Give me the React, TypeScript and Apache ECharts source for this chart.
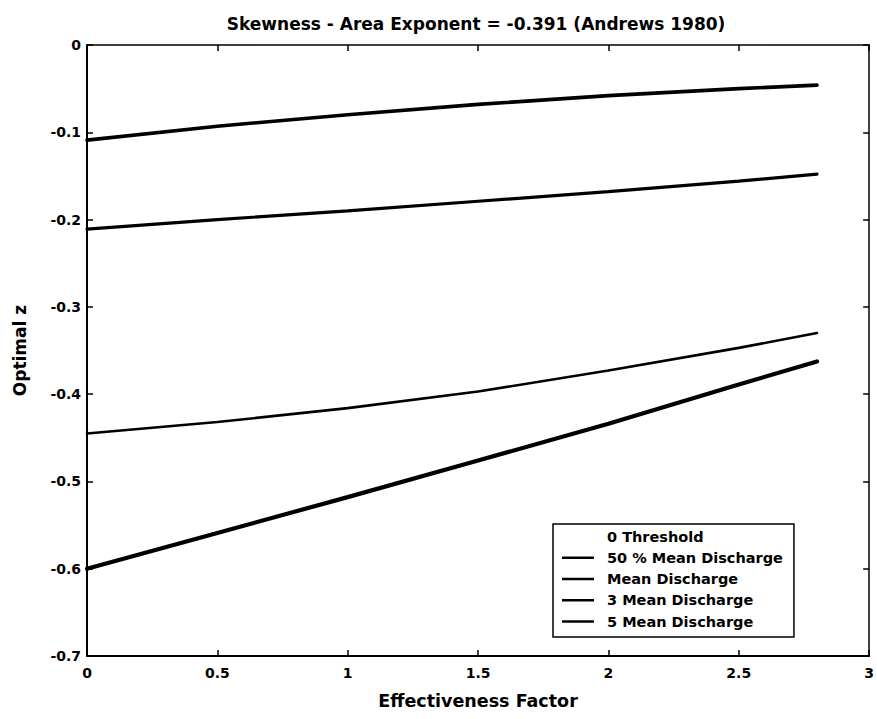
import React, { useEffect, useRef } from "react";
import * as echarts from "echarts";

// Effectiveness factor sample points shared by every curve
const effectiveness = [0, 0.5, 1, 1.5, 2, 2.5, 2.8];

const seriesNames = [
  "0 Threshold",
  "50 % Mean Discharge",
  "Mean Discharge",
  "3 Mean Discharge",
  "5 Mean Discharge",
];

// Optimal z per threshold (the 0 threshold curve is drawn in white)
const zZeroThreshold: number[] = [];
const zHalfMean = [-0.109, -0.093, -0.08, -0.068, -0.058, -0.05, -0.046];
const zMean = [-0.211, -0.2, -0.19, -0.179, -0.168, -0.156, -0.148];
const zThreeMean = [-0.445, -0.432, -0.416, -0.397, -0.373, -0.347, -0.33];
const zFiveMean = [-0.6, -0.559, -0.518, -0.476, -0.434, -0.389, -0.3625];

const yTicks = [0, -0.1, -0.2, -0.3, -0.4, -0.5, -0.6, -0.7];

const FONT = "'DejaVu Sans', Verdana, sans-serif";

export default function App() {
  const ref = useRef<HTMLDivElement>(null);

  useEffect(() => {
    if (!ref.current) return;
    const chart = echarts.init(ref.current, null, { renderer: "svg" });

    const curves = [zZeroThreshold, zHalfMean, zMean, zThreeMean, zFiveMean];
    const widths = [2, 3.6, 3.2, 2.6, 4.2];
    const colors = ["#ffffff", "#000", "#000", "#000", "#000"];

    const labelStyle = {
      color: "#000",
      fontFamily: FONT,
      fontWeight: "bold" as const,
      fontSize: 14,
    };

    chart.setOption({
      animation: false,
      backgroundColor: "#fff",
      title: {
        text: "Skewness - Area Exponent = -0.391 (Andrews 1980)",
        left: 471,
        textAlign: "center",
        top: 10,
        textStyle: { ...labelStyle, fontSize: 17 },
      },
      grid: { left: 87, right: 5, top: 45, bottom: 63 },
      legend: {
        orient: "vertical",
        left: 553,
        top: 524,
        data: seriesNames,
        icon: "rect",
        itemWidth: 32,
        itemHeight: 2.5,
        itemGap: 4.25,
        padding: [4, 11, 7, 9],
        borderColor: "#000",
        borderWidth: 1.5,
        borderRadius: 0,
        backgroundColor: "#fff",
        textStyle: { ...labelStyle, fontSize: 14.5, lineHeight: 17, padding: [0, 0, 0, 8] },
      },
      xAxis: [
        {
          type: "value",
          min: 0,
          max: 3,
          interval: 0.5,
          name: "Effectiveness Factor",
          nameLocation: "middle",
          nameGap: 36,
          nameTextStyle: { ...labelStyle, fontSize: 17.5 },
          axisLine: { onZero: false, lineStyle: { color: "#000", width: 2 } },
          axisTick: { inside: true, length: 6, lineStyle: { color: "#000", width: 1.5 } },
          axisLabel: { ...labelStyle, margin: 10 },
          splitLine: { show: false },
        },
        {
          type: "value",
          position: "top",
          min: 0,
          max: 3,
          interval: 0.5,
          axisLine: { onZero: false, lineStyle: { color: "#000", width: 1.5 } },
          axisTick: { inside: true, length: 6, lineStyle: { color: "#000", width: 1.5 } },
          axisLabel: { show: false },
          splitLine: { show: false },
        },
      ],
      yAxis: [
        {
          type: "value",
          min: -0.7,
          max: 0,
          interval: 0.1,
          name: "Optimal z",
          nameLocation: "middle",
          nameGap: 58.5,
          nameTextStyle: { ...labelStyle, fontSize: 17 },
          axisLine: { onZero: false, lineStyle: { color: "#000", width: 2 } },
          axisTick: { inside: true, length: 6, lineStyle: { color: "#000", width: 1.5 } },
          axisLabel: {
            ...labelStyle,
            margin: 6,
            formatter: (v: number) => {
              const t = yTicks.find((k) => Math.abs(k - v) < 1e-9);
              return t === 0 ? "0" : (t ?? v).toFixed(1);
            },
          },
          splitLine: { show: false },
        },
        {
          type: "value",
          position: "right",
          min: -0.7,
          max: 0,
          interval: 0.1,
          axisLine: { onZero: false, lineStyle: { color: "#000", width: 1.5 } },
          axisTick: { inside: true, length: 6, lineStyle: { color: "#000", width: 1.5 } },
          axisLabel: { show: false },
          splitLine: { show: false },
        },
      ],
      series: seriesNames.map((name, i) => ({
        name,
        type: "line",
        symbol: "none",
        xAxisIndex: 0,
        yAxisIndex: 0,
        color: colors[i],
        lineStyle: { color: colors[i], width: widths[i], cap: "round" },
        itemStyle: { color: colors[i] },
        data: curves[i].map((z, j) => [effectiveness[j], z]),
      })),
    });

    return () => chart.dispose();
  }, []);

  return (
    <div
      ref={ref}
      style={{ position: "fixed", left: 0, top: 0, width: 877, height: 719 }}
    />
  );
}
